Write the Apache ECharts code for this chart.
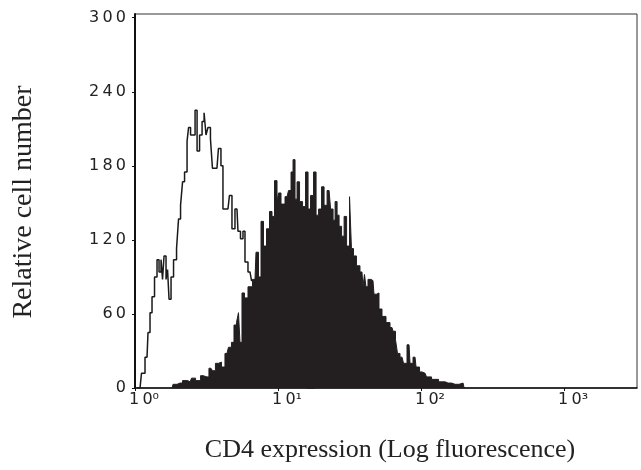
<!DOCTYPE html>
<html>
<head>
<meta charset="utf-8">
<script src="https://cdn.jsdelivr.net/npm/echarts@6/dist/echarts.min.js"></script>
<style>
  html, body { margin: 0; padding: 0; background: #fff; }
  #chart { width: 641px; height: 470px; }
</style>
</head>
<body>
<div id="chart"></div>
<script>
// decade positions (log10 of fluorescence) and counts
var controlLog = [0.014, 0.035, 0.056, 0.084, 0.098, 0.112, 0.126, 0.147, 0.161, 0.175, 0.189, 0.196, 0.210, 0.224, 0.231, 0.245,
    0.259, 0.280, 0.301, 0.308, 0.329, 0.336, 0.357, 0.371, 0.378, 0.399, 0.413, 0.427, 0.441, 0.462, 0.476, 0.490,
    0.503, 0.517, 0.538, 0.545, 0.573, 0.594, 0.608, 0.622, 0.650, 0.671, 0.685, 0.713, 0.727, 0.748, 0.762, 0.776,
    0.804, 0.825, 0.846, 0.888, 0.944, 1.049, 1.154, 1.259];
var controlCount = [0, 0, 12, 25, 45, 61, 74, 90, 104, 94, 104, 88, 107, 88, 96, 72,
    90, 104, 113, 137, 148, 167, 175, 200, 211, 205, 205, 225, 192, 205, 216, 223,
    205, 211, 202, 178, 178, 194, 180, 145, 145, 156, 129, 145, 127, 121, 127, 102,
    94, 87, 80, 65, 45, 20, 5, 0];

var cd4Log = [0.259, 0.273, 0.315, 0.350, 0.385, 0.406, 0.441, 0.476, 0.503, 0.531, 0.552, 0.573, 0.594, 0.615, 0.643, 0.664,
    0.685, 0.699, 0.720, 0.727, 0.741, 0.755, 0.776, 0.804, 0.839, 0.853, 0.874, 0.888, 0.909, 0.930, 0.951, 0.965,
    0.986, 1.000, 1.007, 1.035, 1.063, 1.084, 1.098, 1.112, 1.126, 1.140, 1.161, 1.182, 1.203, 1.217, 1.238, 1.259,
    1.273, 1.294, 1.315, 1.329, 1.357, 1.378, 1.392, 1.406, 1.420, 1.434, 1.455, 1.469, 1.490, 1.510, 1.517, 1.538,
    1.559, 1.587, 1.601, 1.608, 1.622, 1.636, 1.664, 1.678, 1.699, 1.713, 1.741, 1.769, 1.797, 1.811, 1.832, 1.839,
    1.867, 1.888, 1.916, 1.930, 1.958, 1.972, 2.007, 2.028, 2.049, 2.098, 2.147, 2.189, 2.238, 2.294, 2.308];
var cd4Count = [0, 3, 4, 6, 5, 8, 6, 10, 9, 16, 14, 20, 21, 17, 28, 33,
    37, 51, 53, 61, 37, 77, 73, 82, 88, 110, 90, 135, 115, 129, 143, 139,
    168, 151, 158, 149, 155, 160, 175, 185, 153, 167, 151, 147, 175, 145, 156, 175,
    140, 145, 163, 148, 160, 145, 136, 151, 140, 131, 123, 139, 115, 155, 113, 107,
    99, 94, 82, 92, 82, 88, 87, 76, 77, 64, 58, 53, 49, 46, 39, 28,
    25, 20, 35, 20, 25, 17, 13, 12, 9, 7, 5, 4, 3, 4, 0];

var decadeLabels = ['10\u2070', '10\u00b9', '10\u00b2', '10\u00b3'];
var yTicks = [0, 60, 120, 180, 240, 300];

function zip(xs, ys) {
    return xs.map(function (x, i) { return [x, ys[i]]; });
}

var chart = echarts.init(document.getElementById('chart'));
var option = {
    animation: false,
    backgroundColor: '#fff',
    grid: {
        left: 135, right: 4, top: 14, bottom: 82,
        show: true, borderColor: '#333', borderWidth: 1
    },
    xAxis: {
        type: 'value',
        min: 0,
        max: 3.51,
        interval: 1,
        splitLine: { show: false },
        axisLine: { lineStyle: { color: '#111', width: 1.5 } },
        axisTick: { length: 3, lineStyle: { color: '#111' } },
        axisLabel: {
            showMaxLabel: false,
            margin: 4,
            formatter: function (v) {
                var lab = decadeLabels[v];
                if (lab === undefined) return '';
                return '{t|' + lab.charAt(0) + '\u2009' + lab.slice(1) + '}';
            },
            rich: {
                t: {
                    fontFamily: 'DejaVu Sans',
                    fontSize: 16,
                    color: '#222',
                    padding: [0, 0, 0, 18]
                }
            }
        }
    },
    yAxis: {
        type: 'value',
        min: 0,
        max: 303,
        interval: 60,
        splitLine: { show: false },
        axisLine: { lineStyle: { color: '#111', width: 2 } },
        axisTick: { length: 3, lineStyle: { color: '#111' } },
        axisLabel: {
            showMaxLabel: false,
            margin: 9,
            fontFamily: 'DejaVu Sans',
            fontSize: 16,
            color: '#222',
            formatter: function (v) {
                if (yTicks.indexOf(v) < 0) return '';
                return String(v).split('').join('\u2009');
            }
        }
    },
    graphic: [
        {
            type: 'text',
            rotation: Math.PI / 2,
            x: 24, y: 202,
            style: {
                text: 'Relative cell number',
                fontFamily: 'Liberation Serif',
                fontSize: 28,
                fill: '#222',
                align: 'center',
                verticalAlign: 'middle'
            }
        },
        {
            type: 'text',
            x: 390, y: 450,
            style: {
                text: 'CD4 expression (Log fluorescence)',
                fontFamily: 'Liberation Serif',
                fontSize: 26,
                fill: '#222',
                align: 'center',
                verticalAlign: 'middle'
            }
        }
    ],
    series: [
        {
            name: 'control',
            type: 'line',
            step: 'middle',
            symbol: 'none',
            z: 2,
            lineStyle: { color: '#1a1a1a', width: 1.5 },
            data: zip(controlLog, controlCount)
        },
        {
            name: 'CD4',
            type: 'line',
            step: 'middle',
            symbol: 'none',
            z: 3,
            lineStyle: { color: '#231f20', width: 1 },
            areaStyle: { color: '#231f20', opacity: 1 },
            data: zip(cd4Log, cd4Count)
        }
    ]
};
chart.setOption(option);
</script>
</body>
</html>
